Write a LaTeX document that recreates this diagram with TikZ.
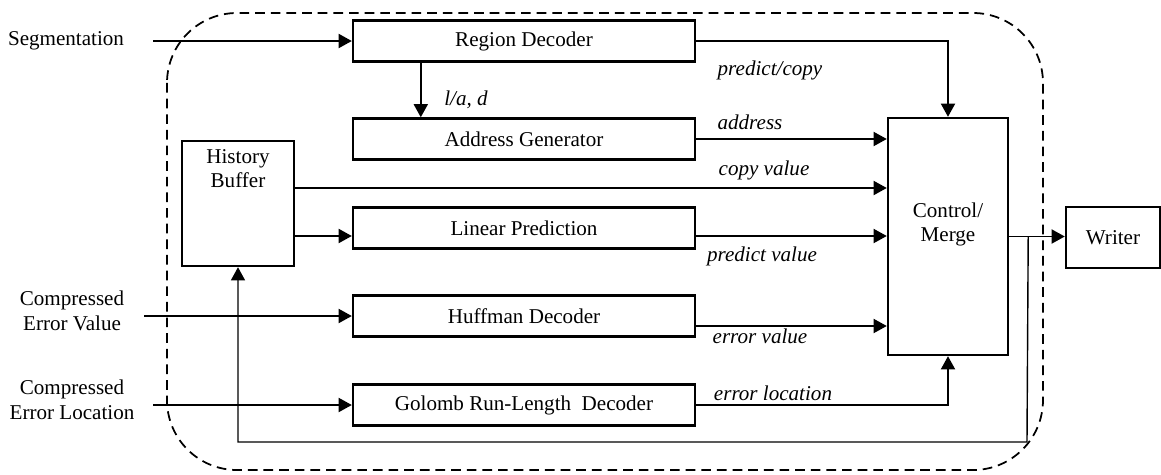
\documentclass[tikz,border=0pt]{standalone}
\usepackage{fontspec}
\setmainfont{Liberation Serif}
\usepackage{tikz}
\usetikzlibrary{calc,arrows.meta}

\tikzset{
	blk/.style={draw,line width=1.4pt,inner sep=0pt,minimum width=6.84cm,minimum height=0.82cm},
	arr/.style={-{Triangle[length=7.5pt,width=8pt]},line width=1pt},
	lbl/.style={font=\fontsize{12}{14}\selectfont\itshape,inner sep=0pt},
	txt/.style={align=center,inner sep=0pt}
}

\begin{document}
\begin{tikzpicture}[x=0.02cm,y=-0.02cm,font=\fontsize{12}{14}\selectfont]
	\useasboundingbox (0,0) rectangle (1161,474);
	
	%dashed outline
	\draw[dash pattern=on 5.5pt off 3.4pt,line width=1pt,rounded corners=1.4cm] (167,13) rectangle (1043,470);
	
	%blocks
	\node[blk] (rd) at (524,41)  {Region Decoder};
	\node[blk] (ag) at (524,139) {Address Generator};
	\node[blk] (lp) at (524,228) {Linear Prediction};
	\node[blk] (hd) at (524,316) {Huffman Decoder};
	\node[blk] (gd) at (524,405) {Golomb Run-Length\ \ Decoder};
	\node[draw,line width=1.4pt,minimum width=2.24cm,minimum height=2.5cm,
		label={[txt,anchor=north,yshift=-0.18cm]north:History\\Buffer}] (hb) at (238,203.5) {};
	\node[draw,line width=1.4pt,minimum width=2.4cm,minimum height=4.74cm,
		label={[txt,yshift=0.24cm]center:Control/\\Merge}] (cm) at (948,236.5) {};
	\node[draw,line width=1.4pt,minimum width=1.88cm,minimum height=1.22cm] (wr) at (1113,237.5) {Writer};
	
	%inputs
	\node[txt] (seg) at (66,41)  {Segmentation};
	\node[txt] (cev) at (72,311) {Compressed\\Error Value};
	\node[txt] (cel) at (72,400) {Compressed\\Error Location};
	\coordinate (segin) at (153,41);
	\coordinate (cevin) at (144,316);
	\coordinate (celin) at (153,405);
	\coordinate (fbturn) at (1027,442);
	
	%arrows
	\draw[arr] (segin) -- (rd.west);
	\draw[arr] (cevin) -- (hd.west);
	\draw[arr] (celin) -- (gd.west);
	\draw[arr] (rd.east) -| (cm.north);									%predict/copy
	\draw[arr] ([xshift=1.38cm]rd.south west) -- ([xshift=1.38cm]ag.north west);	%l/a, d
	\draw[arr] (ag.east) -- (ag.east -| cm.west);							%address
	\draw[arr] ([yshift=0.31cm]hb.east) -- ([yshift=0.31cm]hb.east -| cm.west);	%copy value
	\draw[arr] ([yshift=-0.65cm]hb.east) -- ([yshift=-0.65cm]hb.east -| lp.west);
	\draw[arr] ([yshift=-0.16cm]lp.east) -- ([yshift=-0.16cm]lp.east -| cm.west);	%predict value
	\draw[arr] ([yshift=-0.2cm]hd.east) -- ([yshift=-0.2cm]hd.east -| cm.west);	%error value
	\draw[arr] (gd.east) -| (cm.south);									%error location
	\draw[arr] (cm.east) -- (cm.east -| wr.west);
	\draw[arr,line width=0.8pt] ([xshift=0.38cm]cm.east) -- (fbturn) -| (hb.south);	%feedback
	
	%connector labels
	\node[lbl] (lpc)  at (770,70)  {predict/copy};
	\node[lbl] (lad)  at (466,100) {l/a, d};
	\node[lbl] (ladr) at (750,122) {address};
	\node[lbl] (lcv)  at (764,170) {copy value};
	\node[lbl] (lpv)  at (762,256) {predict value};
	\node[lbl] (lev)  at (760,336) {error value};
	\node[lbl] (lel)  at (773,393) {error location};
	
	%\draw[help lines] (0,0) grid[step=50] (1161,474);
\end{tikzpicture}
\end{document}
